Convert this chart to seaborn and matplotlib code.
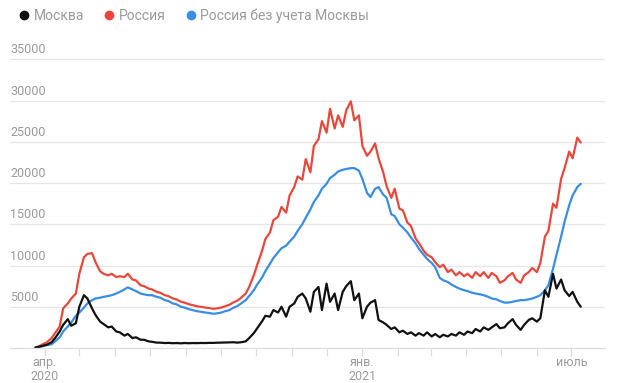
import numpy as np
import pandas as pd
import matplotlib
matplotlib.use("Agg")
import matplotlib.pyplot as plt
import matplotlib.dates as mdates
from matplotlib.lines import Line2D
import seaborn as sns

# twice-weekly samples (Tue / Fri), 24 Mar 2020 - 9 Jul 2021
tuesdays = pd.date_range("2020-03-24", "2021-07-06", freq="7D")
dates = pd.DatetimeIndex(sorted(list(tuesdays) + list(tuesdays + pd.Timedelta(days=3))))

russia = [
    70, 200, 500, 700, 1200, 1800, 2600, 4800, 5400, 6000, 6600, 9000,
    11000, 11400, 11500, 10400, 9300, 9000, 8800, 9000, 8600, 8700, 8600, 9000,
    8300, 8200, 7600, 7500, 7200, 7100, 6800, 6700, 6400, 6300, 6000, 5900,
    5600, 5500, 5300, 5200, 5050, 5000, 4900, 4850, 4750, 4800, 4900, 5050,
    5250, 5500, 5750, 6100, 6600, 7400, 8800, 10100, 11700, 13200, 14000, 15500,
    15900, 17100, 16400, 18500, 19500, 20800, 20400, 22900, 21300, 24500, 25300, 27500,
    26100, 29000, 26600, 28200, 26800, 28800, 29900, 27600, 28200, 24500, 23300, 23800,
    24800, 23000, 21300, 19600, 18200, 19300, 16900, 16700, 15200, 14800, 13300, 12700,
    11800, 11300, 11000, 10400, 9800, 10100, 9200, 9500, 8800, 9200, 8700, 9000,
    8500, 9200, 8700, 9200, 8500, 9100, 8700, 7900, 8200, 8700, 9100, 8300,
    7900, 8800, 9200, 9700, 9200, 10300, 13500, 14200, 17500, 17000, 20500, 21800,
    23800, 23000, 25500, 24900,
]

russia_wo_moscow = [
    50, 100, 250, 350, 450, 800, 1300, 2000, 2600, 3100, 3900, 4300,
    4900, 5400, 5800, 6000, 6100, 6200, 6300, 6400, 6600, 6800, 7100, 7350,
    7100, 6900, 6600, 6500, 6400, 6400, 6200, 6100, 5800, 5700, 5400, 5300,
    5000, 4900, 4700, 4600, 4450, 4400, 4300, 4250, 4150, 4200, 4300, 4450,
    4600, 4850, 5100, 5400, 5800, 6300, 7000, 7700, 8500, 9300, 10200, 10900,
    11600, 12100, 12400, 12900, 13500, 14200, 15000, 15800, 16800, 17700, 18500, 19300,
    19900, 20600, 21000, 21400, 21600, 21700, 21800, 21800, 21500, 20500, 18800, 18300,
    19300, 19500, 18600, 18200, 16200, 16000, 15000, 14600, 14000, 13400, 12700, 12000,
    11300, 10800, 10300, 9800, 8500, 8200, 8000, 7700, 7400, 7200, 7000, 6900,
    6700, 6600, 6500, 6400, 6200, 6000, 5900, 5700, 5500, 5500, 5600, 5700,
    5800, 5800, 5900, 6000, 6200, 6400, 7000, 7600, 9600, 11300, 13500, 15300,
    17300, 18500, 19500, 19900,
]

moscow = [
    50, 150, 300, 400, 700, 1200, 2000, 2800, 3500, 2700, 3000, 5000,
    6400, 6000, 4800, 4000, 3200, 2900, 2500, 2600, 2000, 1900, 1500, 1700,
    1200, 1300, 1000, 1000, 800, 750, 650, 650, 600, 620, 580, 600,
    570, 600, 580, 600, 590, 610, 600, 620, 620, 640, 650, 660,
    680, 700, 650, 700, 800, 1200, 1800, 2400, 3200, 3900, 3800, 4600,
    4300, 5000, 3800, 5000, 5400, 6200, 6600, 6000, 4400, 6800, 7400, 4600,
    7800, 5600, 6600, 4600, 6800, 7500, 8100, 5800, 6600, 3600, 5000, 5500,
    5800, 3400, 3100, 2800, 2300, 2500, 1900, 2100, 1700, 1900, 1500, 1800,
    1500, 1900, 1400, 1700, 1300, 1600, 1400, 1700, 1500, 1900, 1600, 2000,
    1800, 2300, 2000, 2500, 2200, 2500, 2900, 2400, 2500, 3000, 3500, 2800,
    2200, 2800, 3400, 3600, 3200, 3600, 7000, 6200, 9000, 7200, 8300, 7000,
    6300, 6800, 5600, 5000,
]

series_names = ["Москва", "Россия", "Россия без учета Москвы"]
series_colors = ["#111111", "#e8483b", "#3a8ee2"]
y_ticks = [5000, 10000, 15000, 20000, 25000, 30000, 35000]
month_ticks = pd.date_range("2020-04-01", "2021-07-01", freq="MS")
month_labels = {"2020-04-01": "апр.\n2020", "2021-01-01": "янв.\n2021", "2021-07-01": "июль"}

df = pd.concat([
    pd.DataFrame({"date": dates, "cases": russia_wo_moscow, "series": series_names[2]}),
    pd.DataFrame({"date": dates, "cases": russia, "series": series_names[1]}),
    pd.DataFrame({"date": dates, "cases": moscow, "series": series_names[0]}),
])

sns.set_theme(style="white")
plt.rcParams["font.family"] = ["Roboto", "DejaVu Sans"]
text_grey = "#9b9b9b"
grid_grey = "#e6e6e6"

fig = plt.figure(figsize=(6.2, 3.83), dpi=100)
ax = fig.add_axes([10 / 620, 35 / 383, 595 / 620, 297 / 383])

palette = dict(zip(series_names, series_colors))
sns.lineplot(data=df, x="date", y="cases", hue="series", palette=palette,
             hue_order=[series_names[2], series_names[1], series_names[0]],
             linewidth=1.6, legend=False, ax=ax)

ax.set_xlim(pd.Timestamp("2020-03-02"), pd.Timestamp("2021-07-30"))
ax.set_ylim(0, 36000)
for v in y_ticks:
    ax.axhline(v, color=grid_grey, lw=0.9, zorder=0)
    ax.annotate(str(v), xy=(0, v), xycoords=("axes fraction", "data"),
                xytext=(0, 2), textcoords="offset points",
                ha="left", va="bottom", fontsize=9, color=text_grey)
ax.set_yticks([])

ax.set_xticks(month_ticks)
ax.set_xticklabels([month_labels.get(d.strftime("%Y-%m-%d"), "") for d in month_ticks],
                   fontsize=9, color=text_grey, linespacing=1.05)
ax.tick_params(axis="x", length=5.5, width=0.9, color="#dddddd", pad=0.5, bottom=True)
ax.set_xlabel("")
ax.set_ylabel("")
for s in ["top", "right", "left"]:
    ax.spines[s].set_visible(False)
ax.spines["bottom"].set_color("#dddddd")
ax.spines["bottom"].set_linewidth(0.9)

handles = [Line2D([], [], marker="o", linestyle="", color=c, markersize=6) for c in series_colors]
fig.legend(handles, series_names, loc="upper left", bbox_to_anchor=(0.005, 1.01),
           ncol=3, frameon=False, fontsize=10, labelcolor=text_grey,
           handletextpad=0.1, columnspacing=1.2, handlelength=1.2)

fig.savefig("out.png", dpi=100)
